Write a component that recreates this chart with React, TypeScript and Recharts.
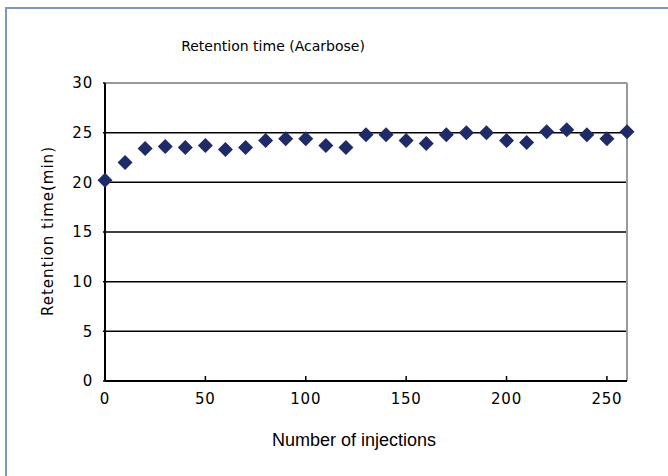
import React from 'react';
import { ScatterChart, Scatter, XAxis, YAxis, CartesianGrid, ReferenceLine } from 'recharts';

const injections = [0, 10, 20, 30, 40, 50, 60, 70, 80, 90, 100, 110, 120, 130, 140, 150, 160, 170, 180, 190, 200, 210, 220, 230, 240, 250, 260];
const retentionMin = [20.2, 22.0, 23.4, 23.6, 23.5, 23.7, 23.3, 23.5, 24.2, 24.4, 24.4, 23.7, 23.5, 24.8, 24.8, 24.2, 23.9, 24.8, 25.0, 25.0, 24.2, 24.0, 25.1, 25.3, 24.8, 24.4, 25.1];
const xTicks = [0, 50, 100, 150, 200, 250];
const yTicks = [0, 5, 10, 15, 20, 25, 30];

const data = injections.map((n, i) => ({ n, rt: retentionMin[i] }));

const TICK_FONT = { fontFamily: 'DejaVu Sans', fontSize: 15, fill: '#000', letterSpacing: 0.8 };

function Diamond(props: any) {
  const { cx, cy } = props;
  const r = 7.5;
  return (
    <polygon
      points={`${cx},${cy - r} ${cx + r},${cy} ${cx},${cy + r} ${cx - r},${cy}`}
      fill="#1f2a68"
    />
  );
}

export default function App() {
  return (
    <div style={{ position: 'absolute', left: 0, top: 0, width: 668, height: 476, background: '#fff', overflow: 'hidden' }}>
      <div
        style={{
          position: 'absolute',
          left: 5,
          top: 7,
          width: 700,
          height: 500,
          borderTop: '2px solid #7a97cc',
          borderLeft: '2px solid #7a97cc',
        }}
      />
      <div style={{ position: 'absolute', left: 0, top: 0 }}>
        <ScatterChart width={668} height={476} margin={{ top: 83, right: 41, bottom: 0, left: 0 }}>
          <CartesianGrid vertical={false} stroke="#000" strokeWidth={1.5} strokeOpacity={1} />
          <XAxis
            type="number"
            dataKey="n"
            domain={[0, 260]}
            ticks={xTicks}
            interval={0}
            height={95}
            tick={TICK_FONT}
            tickSize={-5}
            tickMargin={17}
            axisLine={{ stroke: '#000', strokeWidth: 2 }}
            tickLine={{ stroke: '#000', strokeWidth: 1.5 }}
          />
          <YAxis
            type="number"
            dataKey="rt"
            domain={[0, 30]}
            ticks={yTicks}
            interval={0}
            width={105}
            tick={TICK_FONT}
            tickSize={2}
            tickMargin={10}
            axisLine={{ stroke: '#000', strokeWidth: 2 }}
            tickLine={{ stroke: '#000', strokeWidth: 1.5 }}
          />
          <ReferenceLine y={30} stroke="#999" strokeWidth={2} />
          <ReferenceLine x={260} stroke="#999" strokeWidth={2} />
          <Scatter data={data} shape={<Diamond />} isAnimationActive={false} />
        </ScatterChart>
      </div>
      <div
        style={{
          position: 'absolute',
          left: 273,
          top: 46,
          transform: 'translate(-50%, -50%)',
          fontFamily: 'DejaVu Sans',
          fontSize: 14,
          whiteSpace: 'nowrap',
        }}
      >
        Retention time (Acarbose)
      </div>
      <div
        style={{
          position: 'absolute',
          left: 354,
          top: 440,
          transform: 'translate(-50%, -50%)',
          fontFamily: 'Liberation Sans',
          fontSize: 18,
          whiteSpace: 'nowrap',
        }}
      >
        Number of injections
      </div>
      <div
        style={{
          position: 'absolute',
          left: 48,
          top: 231,
          transform: 'translate(-50%, -50%) rotate(-90deg)',
          fontFamily: 'DejaVu Sans',
          fontSize: 15,
          letterSpacing: 1,
          whiteSpace: 'nowrap',
        }}
      >
        Retention time(min)
      </div>
    </div>
  );
}
